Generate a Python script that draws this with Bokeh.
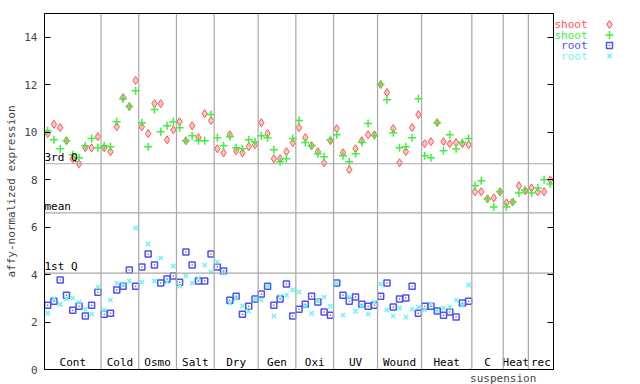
import numpy as np
from bokeh.plotting import figure
from bokeh.models import Range1d, LinearAxis, FixedTicker, Span, Label, ColumnDataSource
from bokeh.layouts import row
from bokeh.embed import file_html
from bokeh.resources import INLINE
from bokeh.core.properties import value

# ---------------- data ----------------
categories = ["Cont", "Cold", "Osmo", "Salt", "Dry", "Gen", "Oxi", "UV", "Wound", "Heat", "C", "Heat", "rec"]
cat_sizes = [9, 6, 6, 6, 7, 6, 6, 7, 7, 8, 5, 4, 4]
sub_label = "suspension"
sub_label_cat = 10

shoot_red = [9.94, 10.33, 10.19, 9.64, 8.88, 8.67, 9.34, 9.34, 9.81,
             9.34, 9.18, 10.23, 11.46, 11.08, 12.18,
             10.23, 9.94, 11.20, 11.20, 9.68, 10.10,
             10.44, 9.64, 10.27, 9.77, 10.78, 10.49,
             9.30, 9.13, 9.89, 9.22, 9.13, 9.39, 9.47,
             10.40, 9.94, 8.88, 8.88, 9.18, 9.56,
             10.19, 9.77, 9.43, 9.18, 8.71, 9.64,
             10.15, 9.13, 8.42, 9.30, 9.64, 9.89, 9.89,
             12.01, 11.67, 10.15, 8.71, 9.18, 10.19, 10.74,
             9.51, 9.60, 10.40, 9.60, 9.51, 9.56, 9.51, 9.47,
             7.49, 7.49, 7.19, 7.23, 7.49,
             7.02, 7.06, 7.74, 7.53,
             7.65, 7.49, 7.49, 7.99]

shoot_green = [10.06, 9.68, 9.30, 9.64, 9.05, 8.92, 9.43, 9.73, 9.34,
               9.43, 9.39, 10.44, 11.41, 11.08, 11.75,
               10.40, 9.39, 10.95, 10.02, 10.27, 10.44,
               10.19, 9.64, 9.85, 9.64, 9.64, 10.74,
               9.77, 9.43, 9.81, 9.34, 9.30, 9.68, 9.60,
               9.85, 9.77, 9.26, 8.75, 8.88, 9.73,
               10.49, 9.56, 9.43, 9.09, 8.96, 9.68,
               9.89, 9.01, 8.75, 9.09, 9.56, 10.36, 9.85,
               12.01, 11.37, 9.98, 9.34, 9.39, 9.77, 11.41,
               9.01, 8.92, 10.40, 9.22, 9.89, 9.30, 9.56, 9.73,
               7.74, 7.95, 7.19, 6.85, 7.49,
               6.85, 7.06, 7.44, 7.57,
               7.44, 7.65, 7.99, 7.82]

root_blue = [2.71, 2.88, 3.77, 3.13, 2.50, 2.67, 2.25, 2.71, 3.26,
             2.33, 2.37, 3.35, 3.51, 4.19, 3.51,
             4.32, 4.87, 4.40, 3.64, 3.81, 3.94,
             3.68, 4.95, 4.40, 3.73, 3.73, 4.87,
             4.32, 4.15, 2.92, 3.09, 2.33, 2.67, 2.97,
             3.18, 3.51, 2.71, 2.97, 3.60, 2.25,
             2.54, 2.75, 3.09, 2.84, 2.42, 2.29,
             3.64, 3.13, 2.88, 3.05, 2.75, 2.67, 2.71,
             3.09, 3.64, 2.63, 2.97, 3.01, 3.51, 2.37,
             2.67, 2.67, 2.46, 2.29, 2.42, 2.21, 2.80, 2.88]

root_cyan = [2.37, 2.97, 2.75, 2.97, 3.01, 2.84, 2.54, 2.33, 3.47,
             2.50, 2.92, 3.64, 3.56, 3.73, 5.96,
             3.68, 5.29, 3.73, 4.70, 3.68, 4.36,
             3.51, 3.94, 3.64, 3.85, 4.40, 4.11,
             4.53, 4.06, 2.80, 3.01, 2.67, 2.46, 2.97,
             2.92, 3.51, 2.25, 3.09, 3.13, 3.35,
             3.26, 2.67, 2.37, 2.92, 3.05, 2.67,
             3.64, 2.29, 3.05, 2.46, 2.67, 2.33, 2.84,
             3.60, 2.50, 2.25, 2.59, 2.21, 2.54, 2.63,
             2.50, 2.75, 2.46, 2.59, 2.63, 2.92, 2.71, 3.56]

stat_labels = ["3rd Q", "mean", "1st Q"]
stat_values = [8.67, 6.60, 4.06]
y_ticks = [0, 2, 4, 6, 8, 10, 12, 14]
series_names = ["shoot", "shoot", "root", "root"]
y_title = "affy-normalized expression"

# ---------------- style ----------------
FONT = "DejaVu Sans Mono"
FS = "11px"
RED, GREEN, BLUE, CYAN = "#ff5050", "#40f040", "#5050f0", "#70f4f4"
GRID = "#a8a8a8"

n_samples = sum(cat_sizes)
p = figure(frame_width=509, frame_height=356,
           x_range=Range1d(-0.5, n_samples - 0.5), y_range=Range1d(0, 15),
           output_backend="svg", toolbar_location=None,
           min_border_left=44, min_border_right=1, min_border_top=13, min_border_bottom=15)
p.grid.visible = False
p.outline_line_color = "black"
p.outline_line_alpha = 1.0

# left axis
p.yaxis.ticker = FixedTicker(ticks=y_ticks)
p.yaxis.major_tick_in = 6
p.yaxis.major_tick_out = 0
p.yaxis.minor_tick_line_color = None
p.yaxis.major_label_standoff = 7
p.yaxis.major_label_text_font = FONT
p.yaxis.major_label_text_font_size = FS
p.yaxis.axis_line_color = "black"
p.yaxis.axis_label = y_title
p.yaxis.axis_label_text_font = FONT
p.yaxis.axis_label_text_font_size = FS
p.yaxis.axis_label_text_font_style = "normal"
p.yaxis.axis_label_standoff = 3

# category boundaries
bounds = np.cumsum(cat_sizes) - 0.5

# bottom axis: line only, plus the second line of the "C suspension" label
p.xaxis.ticker = FixedTicker(ticks=[float(bounds[sub_label_cat])])
p.xaxis.major_label_overrides = {float(bounds[sub_label_cat]): sub_label}
p.xaxis.major_label_standoff = 2
p.xaxis.major_tick_out = 0
p.xaxis.major_tick_in = 0
p.xaxis.major_tick_line_color = None
p.xaxis.minor_tick_line_color = None
p.xaxis.major_label_text_font = FONT
p.xaxis.major_label_text_font_size = FS

# right axis: ticks inward, no labels
ra = LinearAxis(ticker=FixedTicker(ticks=y_ticks), major_tick_in=6, major_tick_out=0,
                minor_tick_line_color=None, major_label_overrides={t: "" for t in y_ticks},
                major_label_standoff=0)
p.add_layout(ra, "right")

for b in bounds[:-1]:
    p.add_layout(Span(location=float(b), dimension="height", line_color=GRID, line_width=1.2))

# stat lines + labels
for lab, v in zip(stat_labels, stat_values):
    p.add_layout(Span(location=v, dimension="width", line_color=GRID, line_width=1.2))
    p.add_layout(Label(x=-0.5, y=v, text=lab, text_font=FONT, text_font_size=FS,
                       text_baseline="bottom", text_align="left", x_offset=0, y_offset=0,
                       text_color="black"))

# series
x_all = list(range(n_samples))
x_root = list(range(len(root_blue)))
p.scatter(x_all, shoot_red, marker="diamond", size=8, line_color=RED, fill_color="#ffc8c8", line_width=1)
p.scatter(x_all, shoot_green, marker="cross", size=8, line_color=GREEN, line_width=1.5)
p.scatter(x_root, root_blue, marker="square_dot", size=6, line_color=BLUE, fill_color=None, line_width=1.5)
p.scatter(x_root, root_cyan, marker="x", size=6, line_color=CYAN, line_width=1.5)

# category labels
starts = np.concatenate([[0], np.cumsum(cat_sizes)[:-1]])
centers = [float(s + (n - 1) / 2) for s, n in zip(starts, cat_sizes)]
src = ColumnDataSource(dict(x=centers, y=[0] * len(centers), t=categories))
p.text(x="x", y="y", text="t", source=src, text_font=value(FONT), text_font_size=value(FS),
       text_align="center", text_baseline="bottom", y_offset=-1, text_color="black")

# ---------------- legend figure ----------------
leg_colors = [RED, GREEN, BLUE, CYAN]
leg_markers = ["diamond", "cross", "square_dot", "x"]
p2 = figure(frame_width=86, frame_height=356, x_range=Range1d(554, 640), y_range=Range1d(369, 13),
            output_backend="svg", toolbar_location=None, min_border=0,
            min_border_top=13, min_border_bottom=15)
p2.axis.visible = False
p2.grid.visible = False
p2.outline_line_color = None
ly = [24, 34.5, 45, 55.5]
p2.text(x=[587] * 4, y=ly, text=series_names, text_color=leg_colors, text_font=value(FONT),
        text_font_size=value(FS), text_align="right", text_baseline="middle")
for yy, c, m in zip(ly, leg_colors, leg_markers):
    fc = "#ffc8c8" if m == "diamond" else None
    sz = 8 if m in ("diamond", "cross") else 6
    lw = 1 if m == "diamond" else 1.5
    p2.scatter([609], [yy], marker=m, size=sz, line_color=c, fill_color=fc, line_width=lw)

layout = row(p, p2)
open("out.html", "w").write(file_html(layout, INLINE))
